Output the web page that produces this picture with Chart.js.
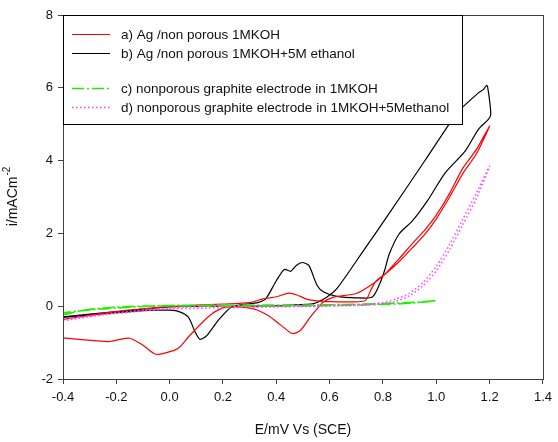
<!DOCTYPE html>
<html>
<head>
<meta charset="utf-8">
<script src="https://cdn.jsdelivr.net/npm/chart.js@4"></script>
<style>
  html, body { margin: 0; padding: 0; background: #fff; }
  #wrap { width: 558px; height: 442px; }
</style>
</head>
<body>
<div id="wrap"><canvas id="cv" width="558" height="442"></canvas></div>
<script>
// x ticks / y ticks
const xTicks = [-0.4, -0.2, 0.0, 0.2, 0.4, 0.6, 0.8, 1.0, 1.2, 1.4]
const yTicks = [-2, 0, 2, 4, 6, 8]

const seriesNames = [
    'a) Ag /non porous 1MKOH',
    'b) Ag /non porous 1MKOH+5M ethanol',
    'c) nonporous graphite electrode in 1MKOH',
    'd) nonporous graphite electrode in 1MKOH+5Methanol'
]

// a) red
const redE = [-0.4, -0.3, -0.2, -0.1, 0.0, 0.1, 0.2, 0.3, 0.35, 0.4, 0.448, 0.48, 0.52, 0.58, 0.65, 0.70, 0.735, 0.755, 0.775, 0.81,
    0.86, 0.91, 0.96, 1.0, 1.05, 1.1, 1.15, 1.2,
    1.15, 1.1, 1.05, 1.0, 0.96, 0.91, 0.86, 0.81,
    0.763, 0.70, 0.615, 0.577, 0.565, 0.528, 0.491, 0.46, 0.417, 0.368, 0.33, 0.306, 0.244, 0.195, 0.145, 0.071, 0.035, 0.0, -0.052, -0.10, -0.15, -0.19, -0.225, -0.26, -0.4]
const redI = [-0.36, -0.25, -0.14, -0.07, -0.01, 0.03, 0.06, 0.1, 0.2, 0.26, 0.36, 0.3, 0.18, 0.13, 0.12, 0.12, 0.16, 0.45, 0.7, 0.9,
    1.3, 1.72, 2.12, 2.5, 3.1, 3.8, 4.3, 4.95,
    4.18, 3.65, 3.0, 2.4, 2.0, 1.6, 1.22, 0.89,
    0.62, 0.35, 0.25, 0.12, 0.03, -0.29, -0.66, -0.75, -0.52, -0.25, -0.11, -0.06, -0.02, -0.06, -0.29, -0.84, -1.14, -1.25, -1.32, -1.07, -0.88, -0.92, -0.97, -0.96, -0.87]

// b) black
const blackE = [-0.4, -0.3, -0.2, -0.1, -0.05, 0.0, 0.035, 0.07, 0.095, 0.114, 0.14, 0.183, 0.232, 0.28, 0.33, 0.36, 0.4, 0.43, 0.454, 0.475, 0.497, 0.522, 0.553, 0.578, 0.627, 0.7, 0.76,
    0.787, 0.806, 0.824, 0.861, 0.911, 0.967, 1.034, 1.108, 1.158, 1.195, 1.204, 1.201, 1.193, 1.189,
    1.176, 1.158, 1.084, 1.047, 0.96, 0.813, 0.732, 0.627, 0.59, 0.54, 0.45, 0.33, 0.15, 0.0, -0.2, -0.4]
const blackI = [-0.31, -0.24, -0.18, -0.12, -0.11, -0.11, -0.15, -0.3, -0.7, -0.91, -0.8, -0.38, -0.02, 0.05, 0.1, 0.2, 0.7, 1.01, 0.96, 1.12, 1.2, 1.12, 0.57, 0.39, 0.27, 0.23, 0.25,
    0.6, 0.98, 1.44, 1.99, 2.35, 2.9, 3.67, 4.26, 4.86, 5.13, 5.26, 5.58, 6.0, 6.07,
    5.95, 5.86, 5.36, 4.99, 4.03, 2.44, 1.58, 0.48, 0.25, 0.07, 0.03, 0.0, 0.0, -0.02, -0.15, -0.29]

// c) green
const greenE = [-0.4, -0.33, -0.25, -0.15, 0.0, 0.2, 0.4, 0.6, 0.8, 0.9, 1.0, 0.9, 0.8, 0.6, 0.4, 0.2, 0.0, -0.1, -0.2, -0.3, -0.4]
const greenI = [-0.24, -0.12, -0.05, -0.01, 0.02, 0.03, 0.03, 0.04, 0.07, 0.1, 0.15, 0.08, 0.05, 0.02, 0.0, 0.0, 0.01, -0.01, -0.05, -0.1, -0.18]

// d) magenta
const magE = [-0.4, -0.2, 0.0, 0.2, 0.4, 0.6, 0.7, 0.75, 0.8, 0.85, 0.9, 0.95, 1.0, 1.05, 1.1, 1.15, 1.2,
    1.15, 1.1, 1.05, 1.0, 0.95, 0.9, 0.85, 0.8, 0.7, 0.4, 0.0, -0.2, -0.4]
const magI = [-0.4, -0.18, -0.05, 0.0, 0.0, 0.02, 0.04, 0.06, 0.1, 0.2, 0.36, 0.65, 1.1, 1.7, 2.4, 3.1, 3.85,
    2.95, 2.25, 1.55, 0.97, 0.56, 0.29, 0.14, 0.07, 0.02, -0.02, -0.08, -0.2, -0.35]

const pts = (xs, ys) => xs.map((x, i) => ({ x: x, y: ys[i] }))

const styles = [
    { color: '#ff0000', width: 1.2, dash: [] },
    { color: '#000000', width: 1.2, dash: [] },
    { color: '#22ee00', width: 1.6, dash: [12, 3, 2, 3] },
    { color: '#ff44ff', width: 1.5, dash: [1.5, 2.5] }
]

const FONT = 'Liberation Sans, Arial, sans-serif'

const framePlugin = {
    id: 'frame',
    afterDatasetsDraw(chart) {
        const ctx = chart.ctx
        const a = chart.chartArea
        ctx.save()
        ctx.strokeStyle = '#404040'
        ctx.lineWidth = 1
        ctx.strokeRect(Math.round(a.left) + 0.5, Math.round(a.top) + 0.5, Math.round(a.right - a.left), Math.round(a.bottom - a.top))

        // legend box
        const lx = Math.round(a.left) + 0.5, ly = Math.round(a.top) + 0.5
        ctx.fillStyle = '#fff'
        ctx.fillRect(lx, ly, 399, 109)
        ctx.strokeStyle = '#000'
        ctx.strokeRect(lx, ly, 399, 109)
        const rows = [34, 53, 88, 107]
        ctx.font = '13.5px ' + FONT
        ctx.textBaseline = 'middle'
        ctx.textAlign = 'left'
        rows.forEach((ry, i) => {
            const s = styles[i]
            ctx.strokeStyle = s.color
            ctx.lineWidth = s.width
            ctx.setLineDash(s.dash)
            ctx.beginPath()
            ctx.moveTo(72, ry + 0.5)
            ctx.lineTo(110, ry + 0.5)
            ctx.stroke()
            ctx.setLineDash([])
            ctx.fillStyle = '#111'
            ctx.fillText(seriesNames[i], 121, ry + 1)
        })

        // axis titles
        ctx.fillStyle = '#111'
        ctx.font = '14px ' + FONT
        ctx.textAlign = 'center'
        ctx.fillText('E/mV Vs (SCE)', (a.left + a.right) / 2, 430)

        ctx.translate(13, 197)
        ctx.rotate(-Math.PI / 2)
        ctx.textAlign = 'left'
        const main = 'i/mACm'
        ctx.font = '14px ' + FONT
        const w1 = ctx.measureText(main).width
        ctx.font = '10px ' + FONT
        const w2 = ctx.measureText('-2').width
        const start = -(w1 + w2) / 2
        ctx.font = '14px ' + FONT
        ctx.fillText(main, start, 0)
        ctx.font = '10px ' + FONT
        ctx.fillText('-2', start + w1 + 1, -6)
        ctx.restore()
    }
}

new Chart(document.getElementById('cv'), {
    type: 'scatter',
    data: {
        datasets: [
            { data: pts(magE, magI), borderColor: styles[3].color, borderWidth: styles[3].width, borderDash: styles[3].dash },
            { data: pts(greenE, greenI), borderColor: styles[2].color, borderWidth: styles[2].width, borderDash: styles[2].dash },
            { data: pts(redE, redI), borderColor: styles[0].color, borderWidth: styles[0].width },
            { data: pts(blackE, blackI), borderColor: styles[1].color, borderWidth: styles[1].width }
        ].map(d => Object.assign(d, { showLine: true, pointRadius: 0, tension: 0.25, fill: false }))
    },
    options: {
        responsive: false,
        animation: false,
        events: [],
        layout: { padding: { top: 15, right: 9, left: 0, bottom: 0 } },
        plugins: { legend: { display: false }, tooltip: { enabled: false } },
        scales: {
            x: {
                type: 'linear', min: -0.4, max: 1.4,
                afterFit: (s) => { s.height = 63 },
                afterBuildTicks: (s) => { s.ticks = xTicks.map(v => ({ value: v })) },
                ticks: { color: '#111', font: { size: 13, family: FONT }, padding: 6, maxRotation: 0,
                    callback: (v) => v.toFixed(1) },
                grid: { drawOnChartArea: false, drawTicks: true, tickLength: 5, color: '#404040' },
                border: { display: false }
            },
            y: {
                type: 'linear', min: -2, max: 8,
                afterFit: (s) => { s.width = 63 },
                afterBuildTicks: (s) => { s.ticks = yTicks.map(v => ({ value: v })) },
                ticks: { color: '#111', font: { size: 13, family: FONT }, padding: 5,
                    callback: (v) => String(v) },
                grid: { drawOnChartArea: false, drawTicks: true, tickLength: 5, color: '#404040' },
                border: { display: false }
            }
        }
    },
    plugins: [framePlugin]
})
</script>
</body>
</html>
